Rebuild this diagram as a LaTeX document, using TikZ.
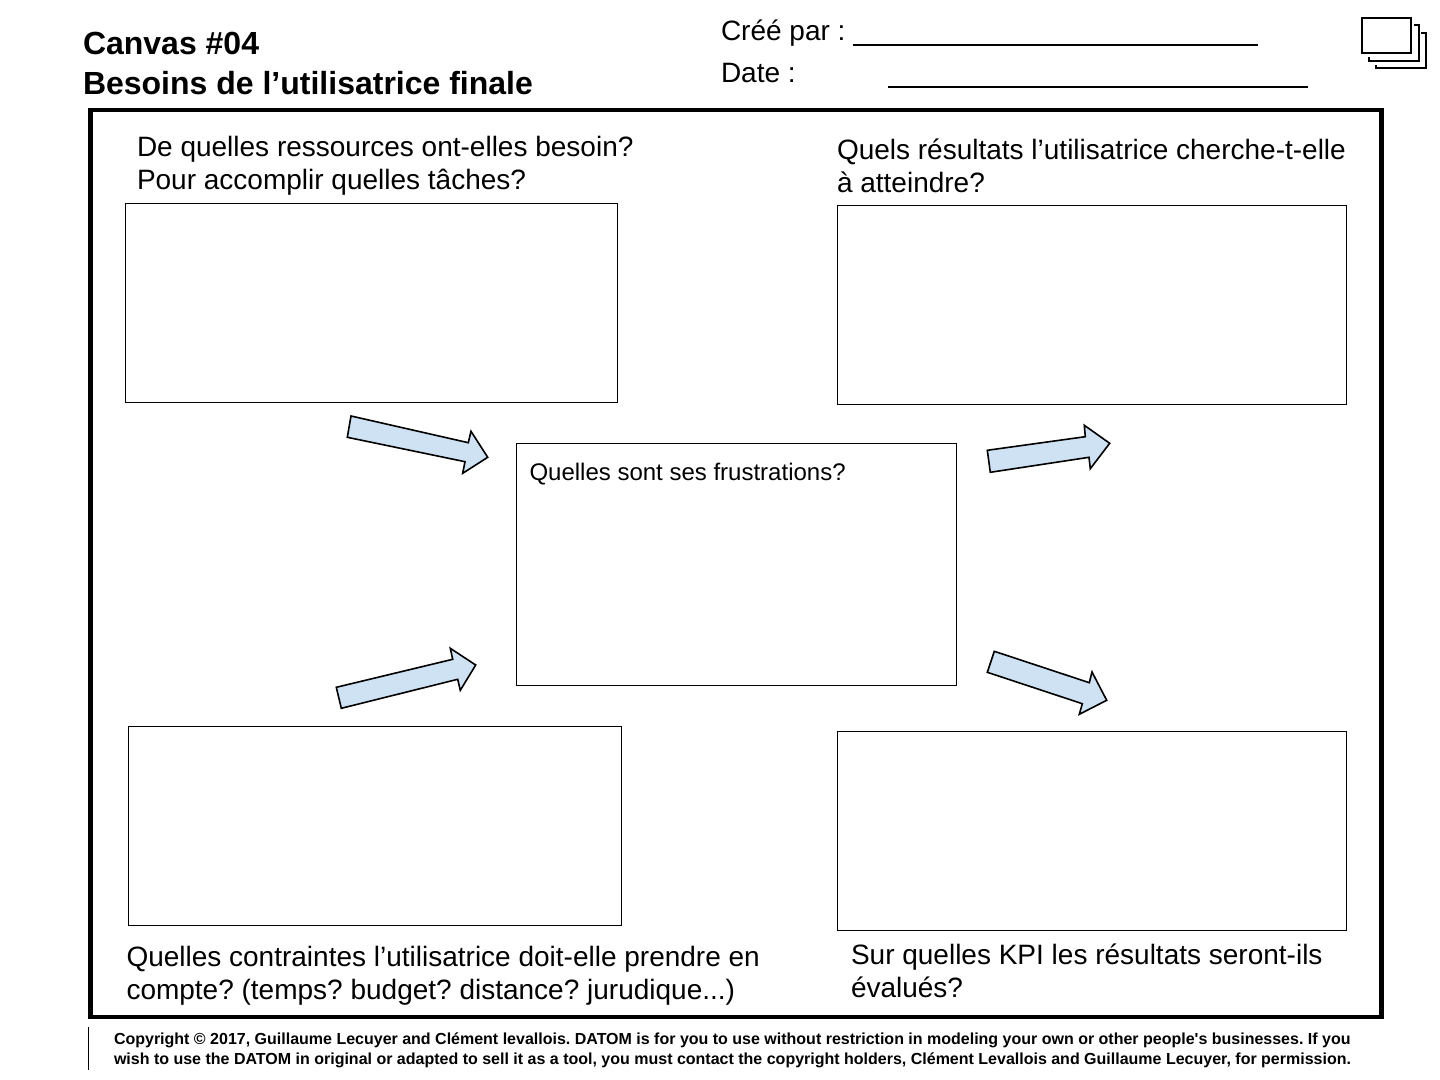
\documentclass[tikz,border=0pt]{standalone}
\usepackage{fontspec}
\setmainfont[Ligatures=TeXOff]{Liberation Sans}
\newcommand{\fpx}[1]{\fontsize{#1}{#1}\selectfont}
\frenchspacing
\tikzset{
  x=0.5pt,y=-0.5pt,
  lbl/.style={anchor=base west,inner sep=0pt,outer sep=0pt,font=\fpx{14},text=black},
  ttl/.style={anchor=base west,inner sep=0pt,outer sep=0pt,font=\fpx{16}\bfseries,text=black},
  small/.style={anchor=base west,inner sep=0pt,outer sep=0pt,font=\fpx{8}\bfseries,text=black},
  mid/.style={anchor=base west,inner sep=0pt,outer sep=0pt,font=\fpx{12},text=black},
  box/.style={draw=black,line width=0.7pt,fill=white,anchor=north west,inner sep=0pt,outer sep=0pt},
  blockarrow/.style={draw=black,line width=0.8pt,fill=arrowblue,line join=miter},
  iconline/.style={draw=black,line width=1.1pt},
}
\definecolor{arrowblue}{HTML}{CFE2F3}
\begin{document}
\begin{tikzpicture}
\useasboundingbox (0,0) rectangle (1440,1080);
\fill[white] (0,0) rectangle (1440,1080);
% header
\node[ttl] (title1) at (83,55) {Canvas \#04};
\node[ttl] (title2) at (83,94.5) {Besoins de l’utilisatrice finale};
\node[lbl] (cree) at (721,41) {Créé par :};
\node[lbl] (date) at (721,82.5) {Date :};
\coordinate (c1) at (853,45); \coordinate (c2) at (1258,45);
\coordinate (d1) at (888,87); \coordinate (d2) at (1308,87);
\draw[line width=0.85pt] (c1) -- (c2);
\draw[line width=0.85pt] (d1) -- (d2);
% icon
\draw[iconline] (1362,18.3) rectangle (1411,53.3);
\draw[iconline] (1414.3,25.3) -- (1418.7,25.3) -- (1418.7,60.7) -- (1369,60.7) -- (1369,57.3);
\draw[iconline] (1421.3,32.7) -- (1425.7,32.7) -- (1425.7,68) -- (1376.3,68) -- (1376.3,64.7);
% frame
\node[draw=black,line width=2.3pt,anchor=north west,inner sep=0pt,outer sep=0pt,minimum width=1291*0.5pt,minimum height=907*0.5pt] (frame) at (90.5,110) {};
% boxes
\node[box,minimum width=492*0.5pt,minimum height=199*0.5pt] (tl) at (125.5,203.5) {};
\node[box,minimum width=509*0.5pt,minimum height=199*0.5pt] (tr) at (837.5,205.5) {};
\node[box,minimum width=440*0.5pt,minimum height=242*0.5pt] (ctr) at (516.5,443.5) {};
\node[box,minimum width=493*0.5pt,minimum height=199*0.5pt] (bl) at (128.5,726.5) {};
\node[box,minimum width=509*0.5pt,minimum height=199*0.5pt] (br) at (837.5,731.5) {};
% labels
\node[lbl] (tl1) at (137,156.5) {De quelles ressources ont-elles besoin?};
\node[lbl] (tl2) at (137,189.5) {Pour accomplir quelles tâches?};
\node[lbl] (tr1) at (837,159.5) {Quels résultats l’utilisatrice cherche-t-elle};
\node[lbl] (tr2) at (837,192.5) {à atteindre?};
\node[mid] (ctrl) at (529.5,480.5) {Quelles sont ses frustrations?};
\node[lbl] (bl1) at (126.5,966) {Quelles contraintes l’utilisatrice doit-elle prendre en};
\node[lbl] (bl2) at (126.5,999) {compte? (temps? budget? distance? jurudique...)};
\node[lbl] (br1) at (851,964.5) {Sur quelles KPI les résultats seront-ils};
\node[lbl] (br2) at (851,997.5) {évalués?};
% arrows
\draw[blockarrow] (351,416) -- (468.3,442.7) -- (471,431.3) -- (487.7,457.3) -- (462.7,473.3) -- (465,461.7) -- (347.3,437.3) -- cycle;
\draw[blockarrow] (336.3,687.3) -- (452.7,659.3) -- (450.3,648.3) -- (475.7,665) -- (460.3,690.3) -- (457.7,679.3) -- (341.3,708.3) -- cycle;
\draw[blockarrow] (987.3,450.3) -- (1085.3,436.7) -- (1084.3,425.3) -- (1109.7,443.3) -- (1090.3,468.7) -- (1089,457.3) -- (990.3,472.3) -- cycle;
\draw[blockarrow] (994.3,651.3) -- (1089.3,682.7) -- (1092,672) -- (1106.7,700.3) -- (1079.3,714.3) -- (1082.3,703.7) -- (987.3,672.3) -- cycle;
% footer
\coordinate (f1) at (88.5,1027); \coordinate (f2) at (88.5,1070);
\draw[line width=0.5pt] (f1) -- (f2);
\node[small] (cp1) at (114,1044) {Copyright © 2017, Guillaume Lecuyer and Clément levallois. DATOM is for you to use without restriction in modeling your own or other people's businesses. If you};
\node[small] (cp2) at (114,1064) {wish to use the DATOM in original or adapted to sell it as a tool, you must contact the copyright holders, Clément Levallois and Guillaume Lecuyer, for permission.};
\end{tikzpicture}
\end{document}
